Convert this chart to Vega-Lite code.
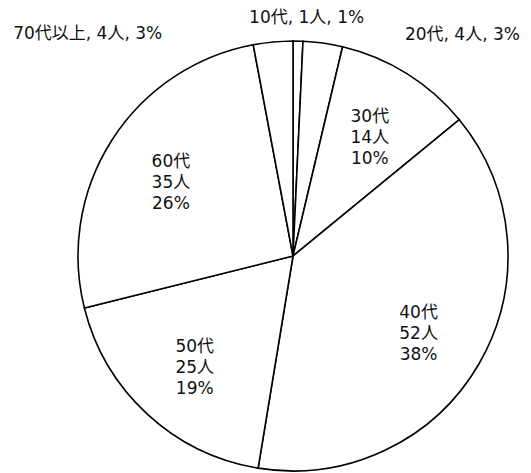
{
  "$schema": "https://vega.github.io/schema/vega-lite/v6.json",
  "width": 470,
  "height": 430,
  "padding": {"left": 58, "right": 3, "top": 41, "bottom": 2},
  "autosize": {"type": "none"},
  "background": "white",
  "config": {"view": {"stroke": null}, "text": {"font": "DejaVu Sans, Noto Sans CJK JP"}},
  "data": {
    "values": [
      {"age": "10代", "count": 1, "inner": "", "outer": "10代, 1人, 1%", "pos": "top"},
      {"age": "20代", "count": 4, "inner": "", "outer": "20代, 4人, 3%", "pos": "right"},
      {"age": "30代", "count": 14, "inner": ["30代", "14人", "10%"], "outer": "", "pos": "in"},
      {"age": "40代", "count": 52, "inner": ["40代", "52人", "38%"], "outer": "", "pos": "in"},
      {"age": "50代", "count": 25, "inner": ["50代", "25人", "19%"], "outer": "", "pos": "in"},
      {"age": "60代", "count": 35, "inner": ["60代", "35人", "26%"], "outer": "", "pos": "in"},
      {"age": "70代以上", "count": 4, "inner": "", "outer": "70代以上, 4人, 3%", "pos": "left"}
    ]
  },
  "transform": [{"stack": "count", "groupby": [], "as": ["start", "end"]}],
  "encoding": {
    "theta": {"field": "count", "type": "quantitative", "stack": true, "scale": {"domain": [0, 135]}},
    "order": {"field": "start", "type": "quantitative"}
  },
  "layer": [
    {
      "mark": {"type": "arc", "outerRadius": 215, "fill": "white", "stroke": "black", "strokeWidth": 1.6}
    },
    {
      "mark": {"type": "text", "radius": 145, "dy": -16, "fontSize": 17, "lineHeight": 21, "baseline": "middle", "fill": "#111"},
      "encoding": {"text": {"field": "inner"}}
    },
    {
      "mark": {"type": "text", "radius": 240, "dx": 8, "dy": 2, "fontSize": 17, "fill": "#111"},
      "encoding": {"text": {"condition": {"test": "datum.pos === 'top'", "field": "outer"}, "value": ""}}
    },
    {
      "mark": {"type": "text", "radius": 240, "dx": 136, "dy": 17, "fontSize": 17, "fill": "#111"},
      "encoding": {"text": {"condition": {"test": "datum.pos === 'right'", "field": "outer"}, "value": ""}}
    },
    {
      "mark": {"type": "text", "radius": 240, "dx": -183, "dy": 17, "fontSize": 17, "fill": "#111"},
      "encoding": {"text": {"condition": {"test": "datum.pos === 'left'", "field": "outer"}, "value": ""}}
    }
  ]
}
